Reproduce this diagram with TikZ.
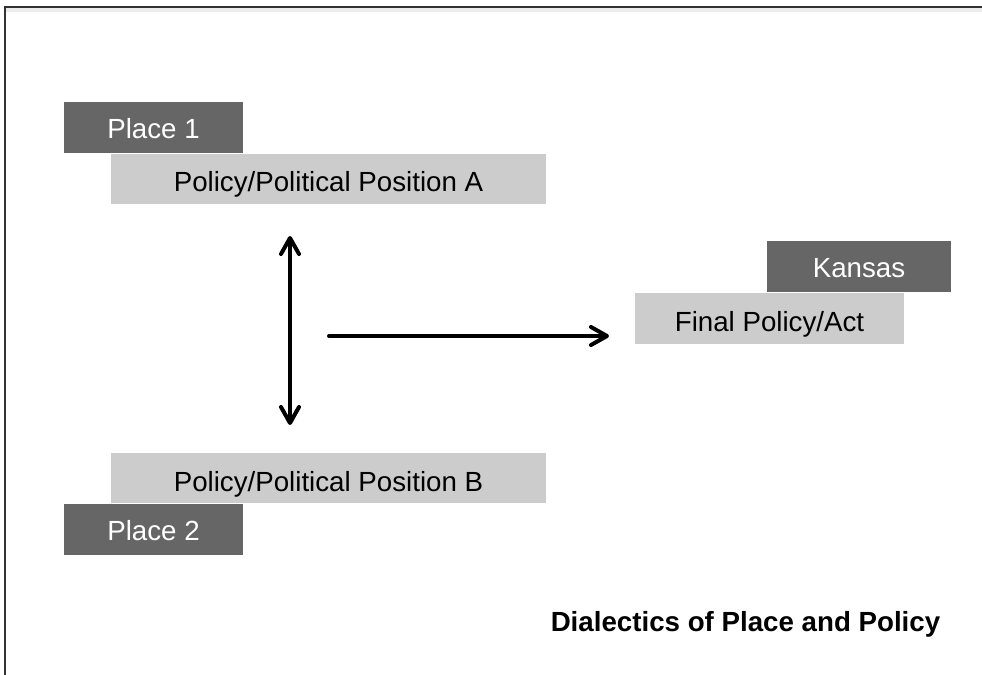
\documentclass[tikz,border=0pt]{standalone}
\usepackage{fontspec}
\setmainfont{Liberation Sans}
\usetikzlibrary{positioning,arrows.meta,calc}
\definecolor{tagdark}{RGB}{102,102,102}
\definecolor{barlight}{RGB}{204,204,204}
\definecolor{framegray}{RGB}{50,50,50}
\tikzset{
  tag/.style = {rectangle, fill = tagdark, text = white, inner sep = 0pt,
                minimum width = 89.5pt, minimum height = 25.5pt,
                text height = 11pt, text depth = 0pt,
                font = \fontsize{13.85}{16}\selectfont},
  bar/.style = {tag, fill = barlight, text = black,
                minimum width = 217.5pt, minimum height = 25pt,
                text height = 13pt},
  arr/.style = {-{Straight Barb[length=8pt,width=9pt,round]},
                line width = 2pt, line cap = round},
  dblarr/.style = {arr, {Straight Barb[length=8pt,width=9pt,round]}-{Straight Barb[length=8pt,width=9pt,round]}},
  title/.style = {font = \fontsize{13.85}{16}\selectfont\bfseries}
}
\begin{document}
\begin{tikzpicture}[x=0.5pt,y=-0.5pt]
        \useasboundingbox (0,0) rectangle (982,675);
        % frame
        \draw[gray!15, line width=2pt] (6,10) -- (982,10);
        \draw[framegray, line width=1pt] (4.5,675) -- (4.5,6.5) -- (982,6.5);
        % places and positions
        \node[tag] (place1) at (153.5,127.5) {Place 1};
        \node[bar, anchor=north west] (posA) at ([xshift=23.5pt]place1.south west) {Policy/Political Position A};
        \node[bar] (posB) at (328.5,478) {Policy/Political Position B};
        \node[tag, anchor=north west] (place2) at ([xshift=-23.5pt]posB.south west) {Place 2};
        \node[bar, minimum width=134.5pt, minimum height=25.5pt] (final) at (769.5,318.5) {Final Policy/Act};
        \node[tag, minimum width=92pt, anchor=south east] (kansas) at ([xshift=23.5pt]final.north east) {Kansas};
        \node[title] (caption) at (745.5,624) {Dialectics of Place and Policy};
        % arrows
        \coordinate (vtop) at (290,236);
        \coordinate (vbot) at (290,425);
        \coordinate (hstart) at (329,336);
        \coordinate (hend) at (609,336);
        \draw[dblarr](vtop)--(vbot);
        \draw[arr](hstart)--(hend);
      \end{tikzpicture}
\end{document}
